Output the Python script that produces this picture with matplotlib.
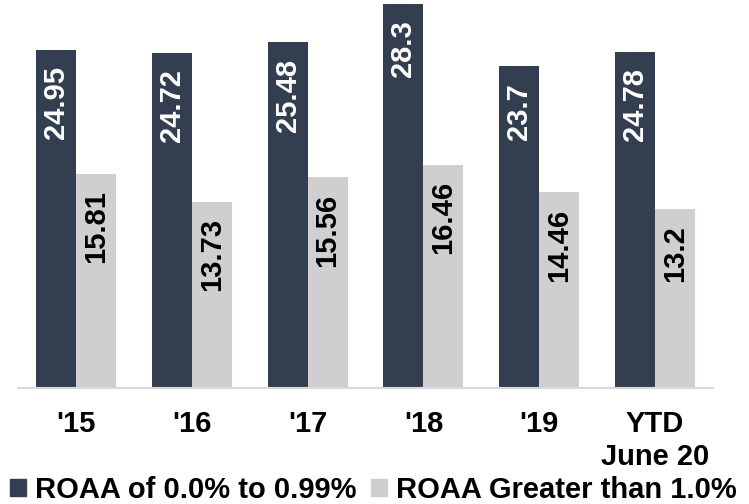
import matplotlib.pyplot as plt
import numpy as np
from matplotlib.patches import Patch

plt.rcParams['font.family'] = ['Liberation Sans', 'DejaVu Sans']
plt.rcParams['font.weight'] = 'bold'

years = ["'15", "'16", "'17", "'18", "'19", "YTD\nJune 20"]
low_roaa = [24.95, 24.72, 25.48, 28.3, 23.7, 24.78]
high_roaa = [15.81, 13.73, 15.56, 16.46, 14.46, 13.2]
labels = ["ROAA of 0.0% to 0.99%", "ROAA Greater than 1.0%"]

dark = "#333f50"
light = "#d0cece"

fig = plt.figure(figsize=(7.49, 5.04), dpi=100)
ax = fig.add_axes([18 / 749, 116 / 504, 695 / 749, 388 / 504])

x = np.arange(len(years))
w = 0.345
b1 = ax.bar(x - w / 2, low_roaa, w, color=dark)
b2 = ax.bar(x + w / 2, high_roaa, w, color=light)

# value labels inside the bars, near the top
for bars, vals, c in [(b1, low_roaa, "white"), (b2, high_roaa, "black")]:
    for bar, v in zip(bars, vals):
        ax.annotate(f"{v:g}", (bar.get_x() + bar.get_width() / 2, v),
                    xytext=(0, -12), textcoords="offset points",
                    rotation=90, ha="center", va="top",
                    fontsize=21, fontweight="bold", color=c)

ax.set_xlim(-0.5, len(years) - 0.5)
ax.set_ylim(0, 28.6)
ax.set_xticks(x)
ax.set_xticklabels(years, fontsize=21, fontweight="bold", va="top")
ax.tick_params(axis="x", length=0, pad=16)
ax.set_yticks([])
for s in ["top", "left", "right"]:
    ax.spines[s].set_visible(False)
ax.spines["bottom"].set_color("#d9d9d9")
ax.spines["bottom"].set_linewidth(1.5)

handles = [Patch(color=dark), Patch(color=light)]
fig.legend(handles, labels, loc="lower left", bbox_to_anchor=(10 / 749, 0),
           ncol=2, frameon=False, borderpad=0, borderaxespad=0,
           handlelength=0.55, handleheight=0.55, handletextpad=0.3,
           columnspacing=0.5, prop={"size": 21, "weight": "bold"})

fig.savefig("out.png", dpi=100)
